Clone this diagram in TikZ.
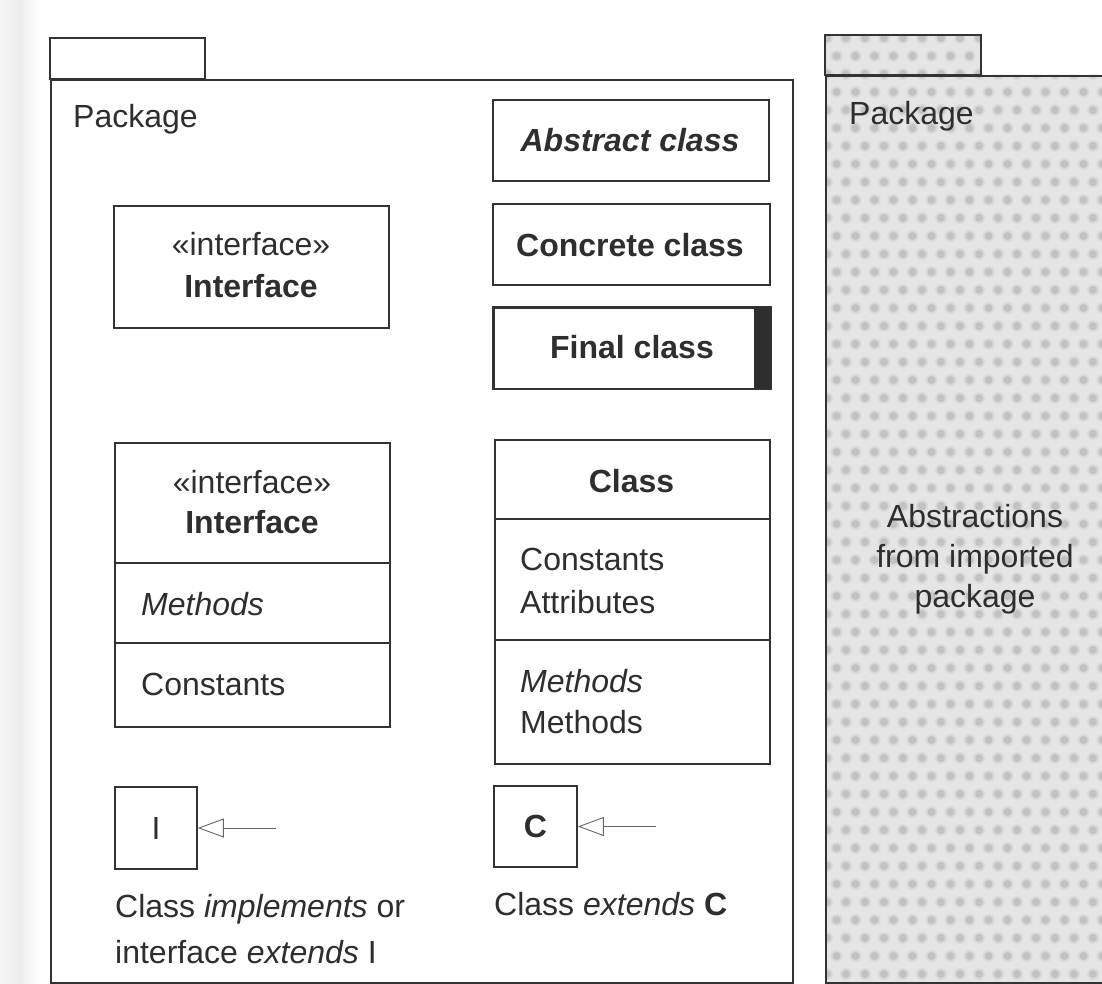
\documentclass[tikz,border=0pt]{standalone}
\usepackage{fontspec}
\setmainfont{Liberation Sans}
\usetikzlibrary{arrows.meta,calc}
\begin{document}
\begin{tikzpicture}[x=1pt,y=-1pt,
  frame/.style={draw=black!80, line width=1.6pt},
  umlbox/.style={frame, fill=white, inner sep=0pt, rectangle},
  txt/.style={text=black!82, inner sep=0pt, font=\fontsize{32}{40}\selectfont},
  inh/.style={draw=black!60, line width=0.9pt, -{Triangle[open, length=26pt, width=19pt]}},
]
\useasboundingbox (0,0) rectangle (1102,984);
\fill[white] (0,0) rectangle (1102,984);
\begin{scope}
\clip (0,0) rectangle (1102,984);

% faint shadow along the left margin
\shade[left color=black!4, right color=white, middle color=black!7] (0,0) rectangle (40,984);

% ---------- main package ----------
\draw[frame, fill=white] (50,38) rectangle (205,79);
\node[umlbox, minimum width=742pt, minimum height=903pt, anchor=north west] (pkgA) at (50,79) {};
\node[txt, anchor=base west] (pkgAlabel) at (73,128) {Package};

% ---------- imported package (screened) ----------
\fill[gray!20] (825,35) rectangle (981,75) (825,75) rectangle (1130,982);
\begin{scope}
  \clip (825,35) rectangle (981,75) (825,75) rectangle (1130,982);
  \foreach \r in {0,...,53} {
    \pgfmathsetmacro\off{mod(\r,2)*9.5}
    \foreach \c in {0,...,15} {
      \fill[gray!30] (827+\off+\c*19, 38+\r*18) circle[radius=6pt];
      \fill[gray!48] (827+\off+\c*19, 38+\r*18) circle[radius=4pt];
    }
  }
\end{scope}
\draw[frame] (825,35) rectangle (981,75);
\node[frame, inner sep=0pt, minimum width=305pt, minimum height=907pt, anchor=north west] (pkgB) at (825,75) {};
\node[txt, anchor=base west] (pkgBlabel) at (849,125) {Package};
\node[txt, anchor=base] (absA) at (975,527) {Abstractions};
\node[txt, anchor=base] (absB) at (975,567) {from imported};
\node[txt, anchor=base] (absC) at (975,607) {package};

% ---------- simple class boxes ----------
\node[umlbox, minimum width=276pt, minimum height=81pt, anchor=north west] (abstract) at (492,99) {};
\node[txt, anchor=base] (abstractT) at (630,152) {\textbf{\textit{Abstract class}}};

\node[umlbox, minimum width=277pt, minimum height=81pt, anchor=north west] (concrete) at (492,203) {};
\node[txt, anchor=base] (concreteT) at (630,256) {\textbf{Concrete class}};

\node[umlbox, minimum width=277pt, minimum height=81pt, anchor=north west] (final) at (493,307) {};
\fill[black!82] ([xshift=-18pt]final.north east) rectangle (final.south east);
\draw[frame] (final.north west) rectangle (final.south east);
\node[txt, anchor=base] (finalT) at (632,358) {\textbf{Final class}};

% ---------- interface (name only) ----------
\node[umlbox, minimum width=275pt, minimum height=122pt, anchor=north west] (ifSmall) at (113,205) {};
\node[txt, anchor=base] (ifSmallA) at (251,255) {«interface»};
\node[txt, anchor=base] (ifSmallB) at (251,297) {\textbf{Interface}};

% ---------- interface with compartments ----------
\node[umlbox, minimum width=275pt, minimum height=284pt, anchor=north west] (ifBig) at (114,442) {};
\draw[frame] (ifBig.west |- 0,563) -- (ifBig.east |- 0,563);
\draw[frame] (ifBig.west |- 0,643) -- (ifBig.east |- 0,643);
\node[txt, anchor=base] (ifBigA) at (252,493) {«interface»};
\node[txt, anchor=base] (ifBigB) at (252,533) {\textbf{Interface}};
\node[txt, anchor=base west] (ifBigM) at (141,615) {\textit{Methods}};
\node[txt, anchor=base west] (ifBigC) at (141,695) {Constants};

% ---------- class with compartments ----------
\node[umlbox, minimum width=275pt, minimum height=324pt, anchor=north west] (cls) at (494,439) {};
\draw[frame] (cls.west |- 0,519) -- (cls.east |- 0,519);
\draw[frame] (cls.west |- 0,640) -- (cls.east |- 0,640);
\node[txt, anchor=base] (clsN) at (631.5,492) {\textbf{Class}};
\node[txt, anchor=base west] (clsC) at (520,570) {Constants};
\node[txt, anchor=base west] (clsA) at (520,613) {Attributes};
\node[txt, anchor=base west] (clsM1) at (520,692) {\textit{Methods}};
\node[txt, anchor=base west] (clsM2) at (520,733) {Methods};

% ---------- notation for inheritance ----------
\node[umlbox, txt, minimum width=82pt, minimum height=82pt] (ibox) at (156,828) {I};
\coordinate (itail) at ([xshift=78pt]ibox.east);
\draw[inh] (itail) -- (ibox.east);
\node[txt, anchor=base west] (icap1) at (115,917) {Class \textit{implements} or};
\node[txt, anchor=base west] (icap2) at (115,963) {interface \textit{extends} I};

\node[umlbox, txt, minimum width=83pt, minimum height=81pt] (cbox) at (535.5,826.5) {\textbf{C}};
\coordinate (ctail) at ([xshift=78pt]cbox.east);
\draw[inh] (ctail) -- (cbox.east);
\node[txt, anchor=base west] (ccap) at (494,915) {Class \textit{extends} \textbf{C}};
\end{scope}
\end{tikzpicture}
\end{document}
